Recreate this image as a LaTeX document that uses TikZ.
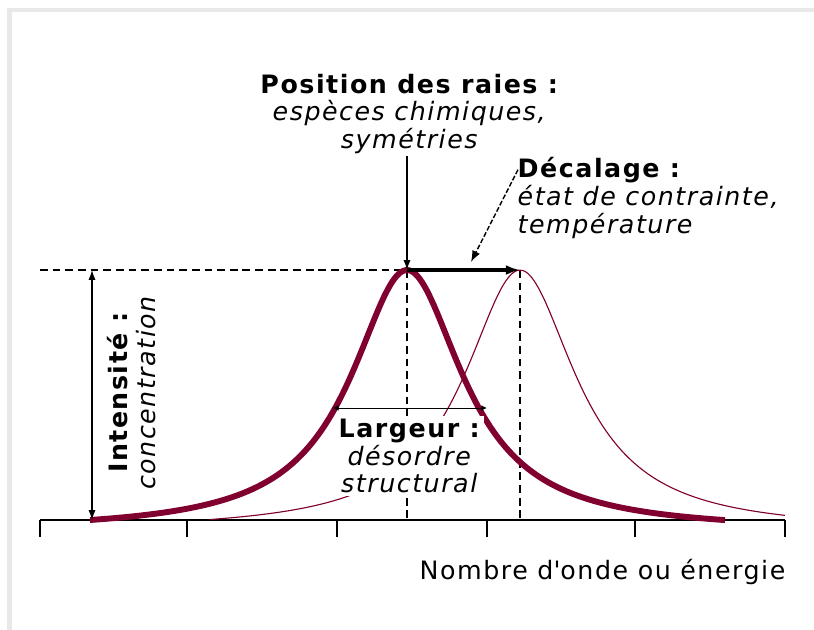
\documentclass[tikz,border=0pt]{standalone}
\usepackage{fontspec}
\setmainfont{DejaVu Sans}[LetterSpace=6]
\usetikzlibrary{arrows.meta}
\definecolor{raie}{RGB}{128,0,48}
\tikzset{
  lbl/.style={align=center,font=\fontsize{18}{19.85}\selectfont,inner sep=1pt},
  pointille/.style={dash pattern=on 5.5pt off 3.5pt,line width=0.9pt},
  fleche/.style={-{Latex[length=7pt,width=5pt]},line width=0.8pt},
}

\begin{document}
\begin{tikzpicture}[x=0.025cm,y=-0.025cm]
\useasboundingbox (0,0) rectangle (814,630);
\fill[black!9] (7,8) rectangle (814,12);
\fill[black!9] (7,8) rectangle (12,630);
% axe
\draw[line width=1pt] (40,520) -- (785,520);
\foreach \t in {40,187,337,487,635,785} \draw[line width=1pt] (\t,520) -- (\t,537);
\node[lbl,anchor=east] (axe) at (787,572) {Nombre d\textquotesingle onde ou énergie};
% sommets
\coordinate (p1) at (407,270);
\coordinate (p2) at (520,270);
\coordinate (b1) at (407,520);
\coordinate (b2) at (520,520);
\coordinate (h0) at (40,270);
\draw[pointille] (h0) -- (p1);
\draw[pointille] (p1) -- (b1);
\draw[pointille] (p2) -- (b2);
% raies
\draw[raie,line width=0.8pt,domain=210:785,samples=150,smooth] plot (\x,{520-261.5*(1/(1+((\x-520)/68)^2)-0.044)});
\draw[raie,line width=4.2pt,domain=90:725,samples=150,smooth] plot (\x,{520-261.5*(1/(1+((\x-407)/68)^2)-0.044)});
% intensite
\coordinate (i1) at (92,270);
\coordinate (i2) at (92,520);
\draw[{Latex[length=7pt,width=5pt]}-{Latex[length=7pt,width=5pt]},line width=0.8pt] (i1) -- (i2);
\node[lbl,rotate=90] (int) at (132,392) {\textbf{Intensité :}\\\textit{concentration}};
% position
\node[lbl] (pos) at (410,114) {\textbf{Position des raies :}\\\textit{espèces chimiques,}\\\textit{symétries}};
\draw[fleche] (pos.south -| p1) -- (p1);
% decalage
\draw[-{Latex[length=10pt,width=7pt]},line width=2.2pt] (p1) -- (p2);
\node[lbl,align=left,anchor=west] (dec) at (516,198) {\textbf{Décalage :}\\\textit{état de contrainte,}\\\textit{température}};
\coordinate (decfin) at (471,262);
\draw[-{Latex[length=8pt,width=6pt]},line width=1pt,dash pattern=on 3.5pt off 1.5pt] ([shift={(2,14)}]dec.north west) -- (decfin);
% largeur
\node[lbl,fill=white,inner sep=2pt] (larg) at (410,456) {\textbf{Largeur :}\\\textit{désordre}\\\textit{structural}};
\coordinate (l1) at (333,408);
\coordinate (l2) at (487,408);
\draw[{Latex[length=4pt,width=4pt]}-{Latex[length=4pt,width=4pt]},line width=0.7pt] (l1) -- (l2);
\end{tikzpicture}
\end{document}
